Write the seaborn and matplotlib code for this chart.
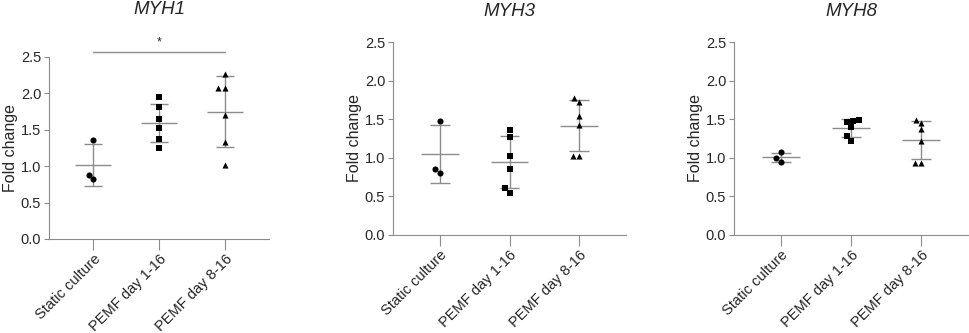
import numpy as np
import pandas as pd
import matplotlib
matplotlib.use("Agg")
import matplotlib.pyplot as plt
import seaborn as sns

sns.set_style("ticks")
plt.rcParams['font.family'] = ['Liberation Sans', 'DejaVu Sans']

categories = ["Static culture", "PEMF day 1-16", "PEMF day 8-16"]
markers = ["o", "s", "^"]
genes = ["MYH1", "MYH3", "MYH8"]

myh1_static = [1.355, 0.82, 0.88]
myh1_d1 = [1.95, 1.81, 1.65, 1.52, 1.38, 1.255]
myh1_d8 = [2.26, 2.08, 2.08, 1.71, 1.33, 1.02]

myh3_static = [1.48, 0.80, 0.856]
myh3_d1 = [1.36, 1.27, 1.02, 0.85, 0.61, 0.55]
myh3_d8 = [1.77, 1.72, 1.535, 1.42, 1.02, 1.02]

myh8_static = [1.07, 0.95, 0.995]
myh8_d1 = [1.49, 1.48, 1.46, 1.40, 1.28, 1.215]
myh8_d8 = [1.45, 1.49, 1.37, 1.215, 0.935, 0.935]

yticks = [0.0, 0.5, 1.0, 1.5, 2.0, 2.5]

data = {
    "MYH1": [myh1_static, myh1_d1, myh1_d8],
    "MYH3": [myh3_static, myh3_d1, myh3_d8],
    "MYH8": [myh8_static, myh8_d1, myh8_d8],
}

W, H = 969, 333
fig = plt.figure(figsize=(W / 100, H / 100), dpi=100)

# axes boxes in pixels: left, right, top, bottom
boxes = [(49, 269, 57, 239), (393, 626, 42, 235), (734, 968, 42, 235)]
title_y = [10, 12, 12]
gray = "#8c8c8c"

for gi, gene in enumerate(genes):
    l, r, t, b = boxes[gi]
    ax = fig.add_axes([l / W, 1 - b / H, (r - l) / W, (b - t) / H])
    rows = []
    for ci, cat in enumerate(categories):
        for v in data[gene][ci]:
            rows.append((cat, v))
    df = pd.DataFrame(rows, columns=["group", "value"])

    for ci, cat in enumerate(categories):
        vals = np.array(data[gene][ci])
        m = vals.mean()
        sd = vals.std(ddof=1)
        ax.hlines(m, ci - 0.27, ci + 0.27, color=gray, lw=1.0, zorder=2)
        ax.hlines([m - sd, m + sd], ci - 0.14, ci + 0.14, color=gray, lw=1.0, zorder=2)
        ax.vlines(ci, m - sd, m + sd, color=gray, lw=1.0, zorder=2)
        sns.swarmplot(data=df[df["group"] == cat], x="group", y="value",
                      order=categories, marker=markers[ci], color="black",
                      size=4.4, ax=ax, zorder=3, linewidth=0)

    ax.set_xlim(-0.67, 2.67)
    ax.set_ylim(0, 2.5)
    ax.set_yticks(yticks)
    ax.set_yticklabels([f"{v:.1f}" for v in yticks], fontsize=10.5)
    ax.set_xticks(range(3))
    ax.set_xticklabels(categories, rotation=45, ha="right",
                       rotation_mode="anchor", fontsize=10.5)
    ax.tick_params(axis="x", length=8.0, width=0.8, color=gray, pad=1)
    ax.tick_params(axis="y", length=3.6, width=0.8, color=gray, pad=2)
    ax.set_xlabel("")
    ax.set_ylabel("Fold change", fontsize=11.5, labelpad=2)
    sns.despine(ax=ax)
    for s in ["left", "bottom"]:
        ax.spines[s].set_color(gray)
        ax.spines[s].set_linewidth(0.8)
    fig.text(((l + r) / 2) / W, 1 - title_y[gi] / H, gene, style="italic",
             fontsize=13.5, ha="center", va="center")

    if gene == "MYH1":
        ax.plot([0, 2], [2.57, 2.57], color=gray, lw=1.0, clip_on=False)
        ax.text(1, 2.62, "*", ha="center", va="bottom", fontsize=9)

fig.savefig("out.png", dpi=100)
